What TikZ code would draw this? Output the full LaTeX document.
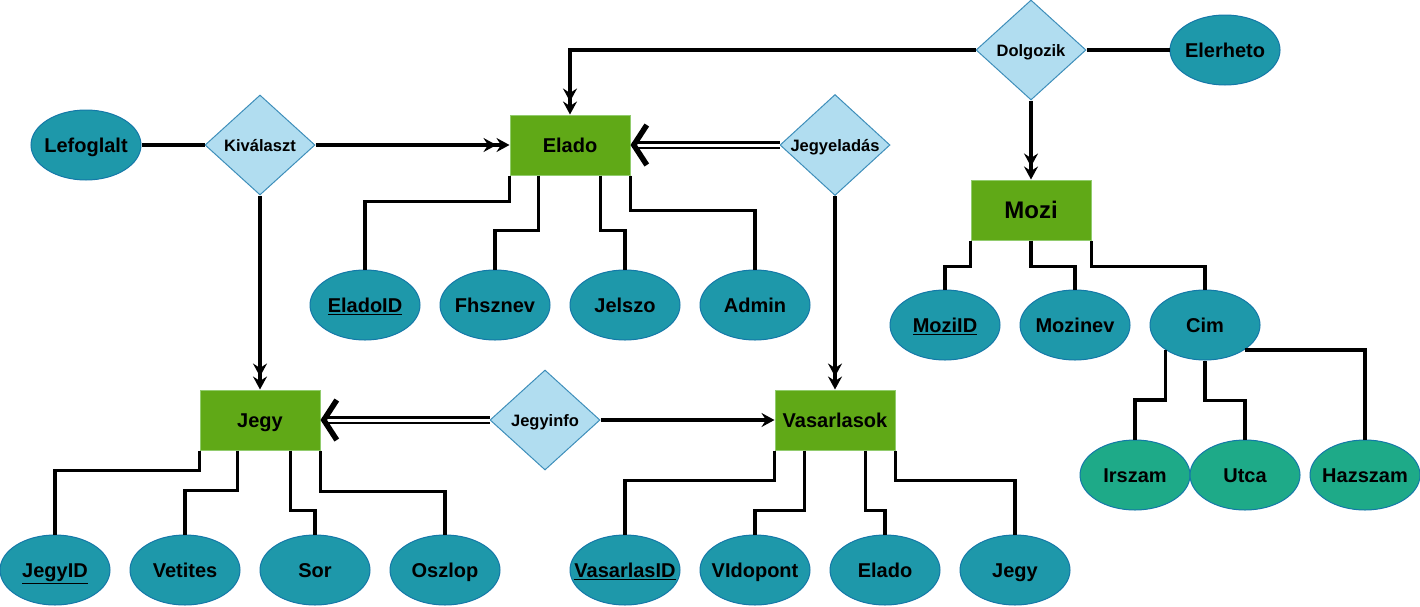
\documentclass[tikz,border=0pt]{standalone}
\usepackage{fontspec}
\setmainfont{Liberation Sans}
\usepackage{xcolor}
\usetikzlibrary{arrows.meta,shapes.geometric}

\definecolor{entfill}{HTML}{60A917}
\definecolor{entedge}{HTML}{92CC6E}
\definecolor{attrfill}{HTML}{1E98AA}
\definecolor{subfill}{HTML}{1EAA88}
\definecolor{attredge}{HTML}{1478A8}
\definecolor{relfill}{HTML}{B1DDF0}
\definecolor{reledge}{HTML}{3E8EBA}

\begin{document}
\begin{tikzpicture}[x=1pt,y=-1pt,
    entity/.style={rectangle,fill=entfill,draw=entedge,line width=1pt,
        minimum width=120pt,minimum height=60pt,inner sep=0pt,
        text height=14.4pt,text depth=0pt,
        font=\fontsize{20}{22}\selectfont\bfseries},
    attr/.style={ellipse,fill=attrfill,draw=attredge,line width=1pt,
        minimum width=110pt,minimum height=70pt,inner xsep=-25pt,inner ysep=0pt,
        text height=14.4pt,text depth=0pt,
        font=\fontsize{20}{22}\selectfont\bfseries},
    subattr/.style={attr,fill=subfill},
    rel/.style={diamond,fill=relfill,draw=reledge,line width=1pt,
        minimum width=110pt,minimum height=100pt,inner sep=0pt,
        text height=12pt,text depth=0pt,
        font=\fontsize{16.5}{18}\selectfont\bfseries},
    link/.style={line width=3.4pt},
    twohead/.style={link,-{Stealth[length=13pt,width=14pt,inset=4.5pt]Stealth[length=13pt,width=14pt,inset=4.5pt]}},
    onehead/.style={link,-{Stealth[length=13pt,width=14pt,inset=4.5pt]}},
    dbl/.style={line width=2.8pt,double,double distance=3pt,shorten >=5pt},
    barb/.style={line width=5.5pt,-{Straight Barb[length=13pt,width=40pt]}},
  ]
    \useasboundingbox (0,0) rectangle (1420,606);

    % Entities
    \node[entity] (elado) at (570,145) {Elado};
    \node[entity] (jegy) at (260,420) {Jegy};
    \node[entity] (vasarlasok) at (835,420) {Vasarlasok};
    \node[entity,text height=17.3pt,font=\fontsize{24}{26}\selectfont\bfseries] (mozi) at (1031,210) {Mozi};

    % Relations
    \node[rel] (kivalaszt) at (260,145) {Kiválaszt};
    \node[rel] (jegyeladas) at (835,145) {Jegyeladás};
    \node[rel] (dolgozik) at (1031,50) {Dolgozik};
    \node[rel] (jegyinfo) at (545,420) {Jegyinfo};

    % Attributes
    \node[attr] (lefoglalt) at (86,145) {Lefoglalt};
    \node[attr] (elerheto) at (1225,50) {Elerheto};

    \node[attr] (eladoid) at (365,305) {\underline{EladoID}};
    \node[attr] (fhsznev) at (495,305) {Fhsznev};
    \node[attr] (jelszo) at (625,305) {Jelszo};
    \node[attr] (admin) at (755,305) {Admin};

    \node[attr] (moziid) at (945,325) {\underline{MoziID}};
    \node[attr] (mozinev) at (1075,325) {Mozinev};
    \node[attr] (cim) at (1205,325) {Cim};
    \node[subattr] (irszam) at (1135,475) {Irszam};
    \node[subattr] (utca) at (1245,475) {Utca};
    \node[subattr] (hazszam) at (1365,475) {Hazszam};

    \node[attr] (jegyid) at (55,570) {\underline{JegyID}};
    \node[attr] (vetites) at (185,570) {Vetites};
    \node[attr] (sor) at (315,570) {Sor};
    \node[attr] (oszlop) at (445,570) {Oszlop};

    \node[attr] (vasarlasid) at (625,570) {\underline{VasarlasID}};
    \node[attr] (vidopont) at (755,570) {VIdopont};
    \node[attr] (eladoattr) at (885,570) {Elado};
    \node[attr] (jegyattr) at (1015,570) {Jegy};

    % Relationship lines
    \draw[link] (lefoglalt) -- (kivalaszt);
    \draw[twohead] (kivalaszt) -- (elado);
    \draw[twohead] (kivalaszt) -- (jegy);
    \draw[twohead] (dolgozik) -| (elado);
    \draw[link] (dolgozik) -- (elerheto);
    \draw[twohead,line width=4.4pt] (dolgozik) -- (mozi);
    \draw[dbl] (jegyeladas) -- (elado);
    \draw[barb] ([xshift=1pt]elado.east) -- (elado.east);
    \draw[twohead] (jegyeladas) -- (vasarlasok);
    \draw[dbl] (jegyinfo) -- (jegy);
    \draw[barb] ([xshift=1pt]jegy.east) -- (jegy.east);
    \draw[onehead] (jegyinfo) -- (vasarlasok);

    % Elado attributes
    \draw[link] (elado.south west) -- ++(0,26) -| (eladoid);
    \draw[link] ([xshift=29pt]elado.south west) -- ++(0,55) -| (fhsznev);
    \draw[link] ([xshift=-30pt]elado.south east) -- ++(0,55) -| (jelszo);
    \draw[link] (elado.south east) -- ++(0,35) -| (admin);

    % Mozi attributes
    \draw[link] (mozi.south west) -- ++(0,26) -| (moziid);
    \draw[link] (mozi.south) -- ++(0,26) -| (mozinev);
    \draw[link] (mozi.south east) -- ++(0,26) -| (cim);
    \draw[link] (cim.212) -- ++(0,50) -| (irszam);
    \draw[link] (cim.south) -- ++(0,40) -| (utca);
    \draw[link] (cim.-32) -| (hazszam);

    % Jegy attributes
    \draw[link] (jegy.south west) -- ++(0,20) -| (jegyid);
    \draw[link] ([xshift=38pt]jegy.south west) -- ++(0,40) -| (vetites);
    \draw[link] ([xshift=-30pt]jegy.south east) -- ++(0,60) -| (sor);
    \draw[link] (jegy.south east) -- ++(0,41) -| (oszlop);

    % Vasarlasok attributes
    \draw[link] (vasarlasok.south west) -- ++(0,30) -| (vasarlasid);
    \draw[link] ([xshift=30pt]vasarlasok.south west) -- ++(0,60) -| (vidopont);
    \draw[link] ([xshift=-30pt]vasarlasok.south east) -- ++(0,60) -| (eladoattr);
    \draw[link] (vasarlasok.south east) -- ++(0,30) -| (jegyattr);
\end{tikzpicture}
\end{document}
